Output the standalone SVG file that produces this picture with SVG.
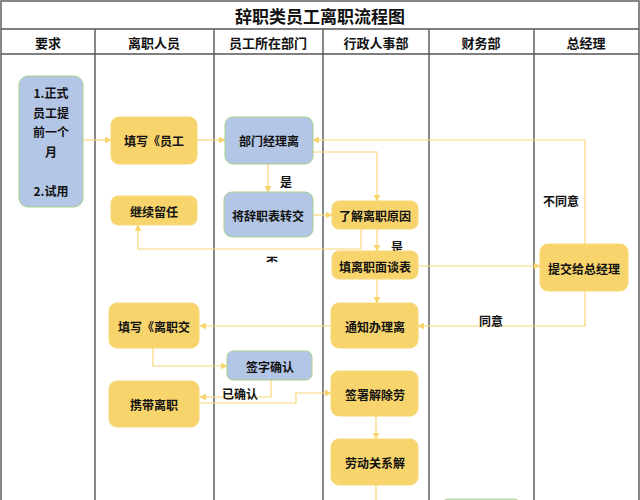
<svg xmlns="http://www.w3.org/2000/svg" width="640" height="500" viewBox="0 0 640 500">
<style>
.grid{stroke:#555;stroke-width:1.4;fill:none}
.t{font-family:"Noto Sans CJK SC","Noto Sans",sans-serif;fill:#111;text-anchor:middle;dominant-baseline:central}
.title{font-size:17px;font-weight:bold}
.hd{font-size:13px;font-weight:bold}
.nt{font-size:12px;font-weight:bold}
.y{fill:#F8D46C;stroke:#F8D878;stroke-width:1}
.b{fill:#B4C6E6;stroke:#A9D18E;stroke-width:1}
.c{stroke:#F8D878;stroke-width:1.2;fill:none;marker-end:url(#ah)}
.cn{stroke:#F8D878;stroke-width:1.2;fill:none}
</style>
<defs>
<marker id="ah" viewBox="0 0 10 10" refX="9" refY="5" markerWidth="7" markerHeight="7" markerUnits="userSpaceOnUse" orient="auto">
<path d="M0,0 L10,5 L0,10 z" fill="#F8D46C"/>
</marker>
<clipPath id="cf"><rect x="255" y="250" width="30" height="12.5"/></clipPath>
</defs>
<rect width="640" height="500" fill="#fff"/>
<g id="grid">
<rect class="grid" x="1" y="1" width="638" height="510"/>
<line class="grid" x1="1" y1="29" x2="639" y2="29"/>
<line class="grid" x1="1" y1="54" x2="639" y2="54"/>
<line class="grid" x1="95" y1="29" x2="95" y2="500"/>
<line class="grid" x1="214" y1="29" x2="214" y2="500"/>
<line class="grid" x1="323" y1="29" x2="323" y2="500"/>
<line class="grid" x1="429" y1="29" x2="429" y2="500"/>
<line class="grid" x1="534" y1="29" x2="534" y2="500"/>
</g>
<g id="headers">
<text class="t title" x="320" y="15">辞职类员工离职流程图</text>
<text class="t hd" x="48" y="42">要求</text>
<text class="t hd" x="154" y="42">离职人员</text>
<text class="t hd" x="268" y="42">员工所在部门</text>
<text class="t hd" x="376" y="42">行政人事部</text>
<text class="t hd" x="481" y="42">财务部</text>
<text class="t hd" x="586" y="42">总经理</text>
</g>
<g id="connectors">
<line class="c" x1="83" y1="140" x2="111" y2="140"/>
<line class="c" x1="197" y1="140" x2="225" y2="140"/>
<line class="c" x1="268" y1="164" x2="268" y2="192"/>
<polyline class="c" points="585,244 585,140 313,140"/>
<polyline class="c" points="313,152 377,152 377,201"/>
<line class="c" x1="313" y1="215" x2="332" y2="215"/>
<polyline class="c" points="361,229 361,249 138,249 138,225"/>
<line class="c" x1="377" y1="229" x2="377" y2="251"/>
<line class="c" x1="418" y1="266" x2="540" y2="266"/>
<line class="c" x1="377" y1="279" x2="377" y2="303"/>
<polyline class="c" points="585,291 585,326 418,326"/>
<line class="c" x1="331" y1="326" x2="200" y2="326"/>
<polyline class="c" points="153,348 153,366 227,366"/>
<polyline class="c" points="271,380 271,397 200,397"/>
<polyline class="c" points="199,403 296,403 296,393 331,393"/>
<line class="c" x1="376" y1="416" x2="376" y2="439"/>
<line class="cn" x1="376" y1="485" x2="376" y2="500"/>
</g>
<g id="labels">
<text class="t nt" x="286" y="181">是</text>
<text class="t nt" x="397" y="246">是</text>
<text class="t nt" x="272" y="261.5" clip-path="url(#cf)">否</text>
<text class="t nt" x="561" y="200">不同意</text>
<text class="t nt" x="491" y="320">同意</text>
<text class="t nt" x="240" y="393">已确认</text>
</g>
<g id="n-req">
<rect class="b" x="19" y="76" width="64" height="131" rx="9"/>
<text class="t nt" x="51" y="92">1.正式</text>
<text class="t nt" x="51" y="112">员工提</text>
<text class="t nt" x="51" y="131">前一个</text>
<text class="t nt" x="51" y="151">月</text>
<text class="t nt" x="51" y="190">2.试用</text>
</g>
<g id="n-fill1"><rect class="y" x="111" y="117" width="86" height="47" rx="8"/><text class="t nt" x="154" y="140">填写《员工</text></g>
<g id="n-mgr"><rect class="b" x="225" y="117" width="88" height="47" rx="8"/><text class="t nt" x="269" y="140">部门经理离</text></g>
<g id="n-stay"><rect class="y" x="111" y="196" width="86" height="29" rx="7"/><text class="t nt" x="154" y="211">继续留任</text></g>
<g id="n-transfer"><rect class="b" x="224" y="192" width="89" height="45" rx="8"/><text class="t nt" x="268" y="215">将辞职表转交</text></g>
<g id="n-reason"><rect class="y" x="332" y="201" width="86" height="28" rx="7"/><text class="t nt" x="375" y="215">了解离职原因</text></g>
<g id="n-interview"><rect class="y" x="332" y="251" width="86" height="28" rx="7"/><text class="t nt" x="375" y="266">填离职面谈表</text></g>
<g id="n-gm"><rect class="y" x="540" y="244" width="88" height="47" rx="8"/><text class="t nt" x="584" y="268">提交给总经理</text></g>
<g id="n-notify"><rect class="y" x="331" y="303" width="87" height="45" rx="8"/><text class="t nt" x="375" y="326">通知办理离</text></g>
<g id="n-fill2"><rect class="y" x="109" y="303" width="90" height="45" rx="8"/><text class="t nt" x="154" y="326">填写《离职交</text></g>
<g id="n-sign"><rect class="b" x="227" y="351" width="85" height="29" rx="6"/><text class="t nt" x="270" y="366">签字确认</text></g>
<g id="n-carry"><rect class="y" x="109" y="381" width="90" height="46" rx="8"/><text class="t nt" x="154" y="404">携带离职</text></g>
<g id="n-terminate"><rect class="y" x="331" y="371" width="87" height="45" rx="8"/><text class="t nt" x="375" y="394">签署解除劳</text></g>
<g id="n-labor"><rect class="y" x="331" y="439" width="87" height="46" rx="8"/><text class="t nt" x="375" y="462">劳动关系解</text></g>
<g id="n-fin"><rect x="442" y="499" width="78" height="20" rx="6" fill="#E2F0D9" stroke="#A9D18E" stroke-width="1"/></g>
</svg>
